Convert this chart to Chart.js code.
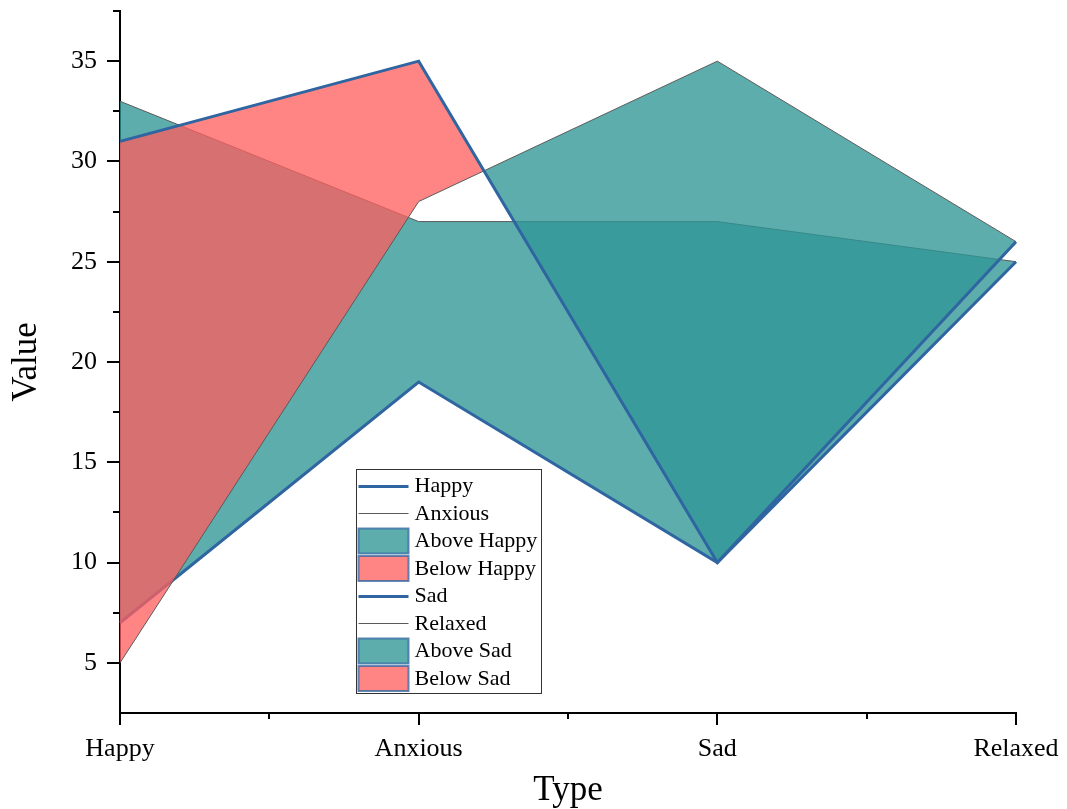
<!DOCTYPE html>
<html>
<head>
<meta charset="utf-8">
<script src="https://cdn.jsdelivr.net/npm/chart.js@4"></script>
<style>
  html, body { margin: 0; padding: 0; background: #fff; }
  #wrap { width: 1067px; height: 809px; }
</style>
</head>
<body>
<div id="wrap"><canvas id="chart"></canvas></div>
<script>
const categories = ['Happy', 'Anxious', 'Sad', 'Relaxed'];
const happyValues = [31, 35, 10, 26];
const anxiousValues = [5, 28, 35, 26];
const sadValues = [7, 19, 10, 25];
const relaxedValues = [33, 27, 27, 25];
const yTickValues = [5, 10, 15, 20, 25, 30, 35];
const yMinorTicks = [7.5, 12.5, 17.5, 22.5, 27.5, 32.5, 37.5];
const legendNames = ['Happy', 'Anxious', 'Above Happy', 'Below Happy', 'Sad', 'Relaxed', 'Above Sad', 'Below Sad'];
const legendKinds = ['thick', 'thin', 'above', 'below', 'thick', 'thin', 'above', 'below'];

const BLUE = '#2f65a1';
const THIN = '#5a5a5a';
const TEAL = 'rgba(48, 150, 150, 0.78)';
const RED = 'rgba(255, 95, 95, 0.76)';
const FONT = '"Liberation Serif", "Times New Roman", serif';

// major / minor tick marks drawn outside the axes
const tickMarks = {
  id: 'tickMarks',
  afterDraw(chart) {
    const { ctx, scales: { x, y }, chartArea } = chart;
    ctx.save();
    ctx.strokeStyle = '#000';
    ctx.lineWidth = 2;
    ctx.beginPath();
    yTickValues.forEach((v) => {
      const py = Math.round(y.getPixelForValue(v));
      ctx.moveTo(chartArea.left - 13, py);
      ctx.lineTo(chartArea.left, py);
    });
    yMinorTicks.forEach((v) => {
      const py = Math.round(y.getPixelForValue(v));
      ctx.moveTo(chartArea.left - 7, py);
      ctx.lineTo(chartArea.left, py);
    });
    categories.forEach((c, i) => {
      const px = Math.round(x.getPixelForValue(i));
      ctx.moveTo(px, chartArea.bottom);
      ctx.lineTo(px, chartArea.bottom + 12);
      if (i < categories.length - 1) {
        const mid = Math.round((x.getPixelForValue(i) + x.getPixelForValue(i + 1)) / 2);
        ctx.moveTo(mid, chartArea.bottom);
        ctx.lineTo(mid, chartArea.bottom + 6);
      }
    });
    ctx.stroke();
    ctx.restore();
  }
};

const boxLegend = {
  id: 'boxLegend',
  afterDraw(chart) {
    const ctx = chart.ctx;
    const left = 356.5, top = 469.5, w = 185, h = 224, step = 27.5;
    ctx.save();
    ctx.fillStyle = '#fff';
    ctx.fillRect(left, top, w, h);
    ctx.strokeStyle = '#333';
    ctx.lineWidth = 1;
    ctx.strokeRect(left, top, w, h);
    ctx.font = '22px ' + FONT;
    ctx.textBaseline = 'middle';
    ctx.textAlign = 'left';
    legendNames.forEach((name, i) => {
      const cy = top + 16 + i * step;
      const kind = legendKinds[i];
      if (kind === 'thick' || kind === 'thin') {
        ctx.strokeStyle = kind === 'thick' ? BLUE : THIN;
        ctx.lineWidth = kind === 'thick' ? 3 : 1;
        ctx.beginPath();
        ctx.moveTo(left + 2, Math.round(cy) + 0.5);
        ctx.lineTo(left + 52, Math.round(cy) + 0.5);
        ctx.stroke();
      } else {
        ctx.fillStyle = kind === 'above' ? TEAL : RED;
        ctx.fillRect(left + 2, cy - 12, 50, 25);
        ctx.strokeStyle = 'rgba(47, 101, 161, 0.75)';
        ctx.lineWidth = 2;
        ctx.strokeRect(left + 2, cy - 12, 50, 25);
      }
      ctx.fillStyle = '#000';
      ctx.fillText(name, left + 58, cy + 1);
    });
    ctx.restore();
  }
};

new Chart(document.getElementById('chart'), {
  type: 'line',
  data: {
    labels: categories,
    datasets: [
      { label: 'Happy', data: happyValues, borderColor: BLUE, borderWidth: 3, pointRadius: 0, fill: false, order: 1 },
      { label: 'Anxious', data: anxiousValues, borderColor: THIN, borderWidth: 1, pointRadius: 0,
        fill: { target: 0, above: TEAL, below: RED }, order: 2 },
      { label: 'Sad', data: sadValues, borderColor: BLUE, borderWidth: 3, pointRadius: 0, fill: false, order: 3 },
      { label: 'Relaxed', data: relaxedValues, borderColor: THIN, borderWidth: 1, pointRadius: 0,
        fill: { target: 2, above: TEAL, below: RED }, order: 4 }
    ]
  },
  options: {
    animation: false,
    responsive: true,
    maintainAspectRatio: false,
    layout: { padding: { left: 0, right: 51, top: 11, bottom: 0 } },
    plugins: {
      legend: { display: false },
      tooltip: { enabled: false },
      filler: { drawTime: 'beforeDatasetDraw' }
    },
    scales: {
      x: {
        type: 'category',
        offset: false,
        grid: { display: false, drawTicks: false },
        border: { display: true, color: '#000', width: 2 },
        ticks: { color: '#000', font: { family: FONT, size: 26 }, padding: 21, maxRotation: 0 },
        title: { display: true, text: 'Type', color: '#000', font: { family: FONT, size: 35 }, padding: { top: 6, bottom: -3 } },
        afterFit: (scale) => {
          scale.height = 96;
          scale.paddingLeft = 0;
          scale.paddingRight = 0;
        }
      },
      y: {
        type: 'linear',
        min: 2.5,
        max: 37.5,
        afterBuildTicks: (scale) => { scale.ticks = yTickValues.map((v) => ({ value: v })); },
        grid: { display: false, drawTicks: false },
        border: { display: true, color: '#000', width: 2 },
        ticks: { color: '#000', font: { family: FONT, size: 26 }, padding: 23 },
        title: { display: true, text: 'Value', color: '#000', font: { family: FONT, size: 35 }, padding: { top: 6, bottom: 26 } },
        afterFit: (scale) => {
          scale.width = 120;
          scale.paddingTop = 0;
          scale.paddingBottom = 0;
        }
      }
    }
  },
  plugins: [tickMarks, boxLegend]
});
</script>
</body>
</html>
